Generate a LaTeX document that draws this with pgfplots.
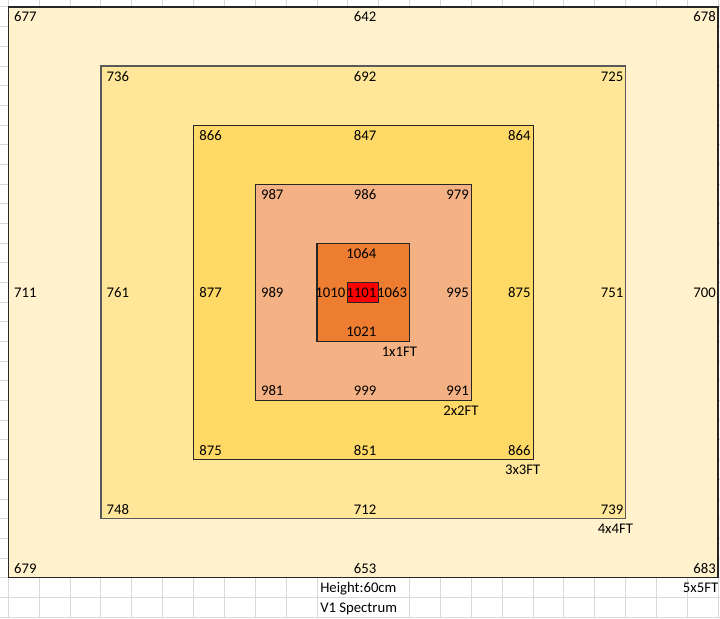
\documentclass[border=0pt]{standalone}
\usepackage{fontspec}
\setmainfont{Carlito}
\usepackage{pgfplots}
\usepackage{pgfplotstable}
\pgfplotsset{compat=1.18}
\definecolor{c5}{HTML}{FFF2CC}
\definecolor{c4}{HTML}{FFE699}
\definecolor{c3}{HTML}{FFD966}
\definecolor{c2}{HTML}{F4B183}
\definecolor{c1}{HTML}{ED7D31}
\definecolor{c0}{HTML}{FF0000}
\definecolor{gridgray}{HTML}{D9D9D9}
\pgfplotstableread{
x y label
36.8 22 677
376.5 22 642
716 22 678
129.4 81 736
376.5 81 692
623.5 81 725
222 140.1 866
376.5 140.1 847
530.8 140.1 864
283.7 199.1 987
376.5 199.1 986
469.1 199.1 979
376.5 258.2 1064
36.8 297.5 711
129.4 297.5 761
222 297.5 877
283.7 297.5 989
345.6 297.5 1010
376.5 297.5 1101
407.3 297.5 1063
469.1 297.5 995
530.8 297.5 875
623.5 297.5 751
716 297.5 700
376.5 336.9 1021
283.7 395.9 981
376.5 395.9 999
469.1 395.9 991
222 455 875
376.5 455 851
530.8 455 866
129.4 514 748
376.5 514 712
623.5 514 739
36.8 573 679
376.5 573 653
716 573 683
}\numtable
\pgfplotstableread[col sep=comma]{
x,y,label
381.5,356.6,1x1FT
443.1,415.6,2x2FT
504.8,474.6,3x3FT
597.5,533.7,4x4FT
320,592.7,Height:60cm
320,612.4,V1 Spectrum
}\texttable
\pgfplotstableread[col sep=comma]{
x,y,label
718.5,592.7,5x5FT
}\edgetable
\begin{document}
\begin{tikzpicture}
\begin{axis}[
  scale only axis, width=7.2in, height=6.18in,
  xmin=0, xmax=720, ymin=0, ymax=618, y dir=reverse,
  axis line style={draw=none},
  xtick={8.3,39.17,70.04,100.91,131.78,162.65,193.52,224.39,255.26,286.13,317.0,347.87,378.74,409.61,440.48,471.35,502.22,533.09,563.96,594.83,625.7,656.57,687.44,718.31},
  ytick={7,26.68,46.36,66.04,85.72,105.4,125.08,144.76,164.44,184.12,203.8,223.48,243.16,262.84,282.52,302.2,321.88,341.56,361.24,380.92,400.6,420.28,439.96,459.64,479.32,499,518.68,538.36,558.04,577.72,597.4,617.08},
  xticklabels={}, yticklabels={},
  major tick length=0pt,
  grid=major, grid style={draw=gridgray, line width=0.72bp},
  font=\fontsize{10.6bp}{12bp}\selectfont,
]
% boxes
\addplot[fill=c5, draw=black!85, line width=1.1bp] coordinates {(8.3,7) (718,7) (718,577.7) (8.3,577.7)} -- cycle;
\addplot[fill=c4, draw=black!65, line width=1.0bp] coordinates {(100.9,66.04) (625.7,66.04) (625.7,518.68) (100.9,518.68)} -- cycle;
\addplot[fill=c3, draw=black!85, line width=0.8bp] coordinates {(193.5,125.08) (533.1,125.08) (533.1,459.64) (193.5,459.64)} -- cycle;
\addplot[fill=c2, draw=black!85, line width=0.8bp] coordinates {(255.3,184.12) (471.4,184.12) (471.4,400.6) (255.3,400.6)} -- cycle;
\addplot[fill=c1, draw=black!85, line width=0.8bp] coordinates {(317.0,243.16) (409.6,243.16) (409.6,341.56) (317.0,341.56)} -- cycle;
\addplot[fill=c0, draw=black!85, line width=0.8bp] coordinates {(347.9,282.52) (378.7,282.52) (378.7,302.2) (347.9,302.2)} -- cycle;
% hide gridlines under overflowing text
\addplot[fill=white, draw=none] coordinates {(317.9,578.3) (409.1,578.3) (409.1,596.8) (317.9,596.8)} -- cycle;
\addplot[fill=white, draw=none] coordinates {(317.9,598.0) (409.1,598.0) (409.1,616.5) (317.9,616.5)} -- cycle;
% labels
\addplot[only marks, mark=none, nodes near coords, point meta=explicit symbolic,
  every node near coord/.append style={anchor=base east, inner sep=0pt, text=black}]
  table[x=x, y=y, meta=label] {\numtable};
\addplot[only marks, mark=none, nodes near coords, point meta=explicit symbolic,
  every node near coord/.append style={anchor=base west, inner sep=0pt, text=black}]
  table[x=x, y=y, meta=label] {\texttable};
\addplot[only marks, mark=none, nodes near coords, point meta=explicit symbolic,
  every node near coord/.append style={anchor=base east, inner sep=0pt, text=black}]
  table[x=x, y=y, meta=label] {\edgetable};
\end{axis}
\pgfresetboundingbox
\useasboundingbox (current axis.south west) rectangle (current axis.north east);
\end{tikzpicture}
\end{document}
